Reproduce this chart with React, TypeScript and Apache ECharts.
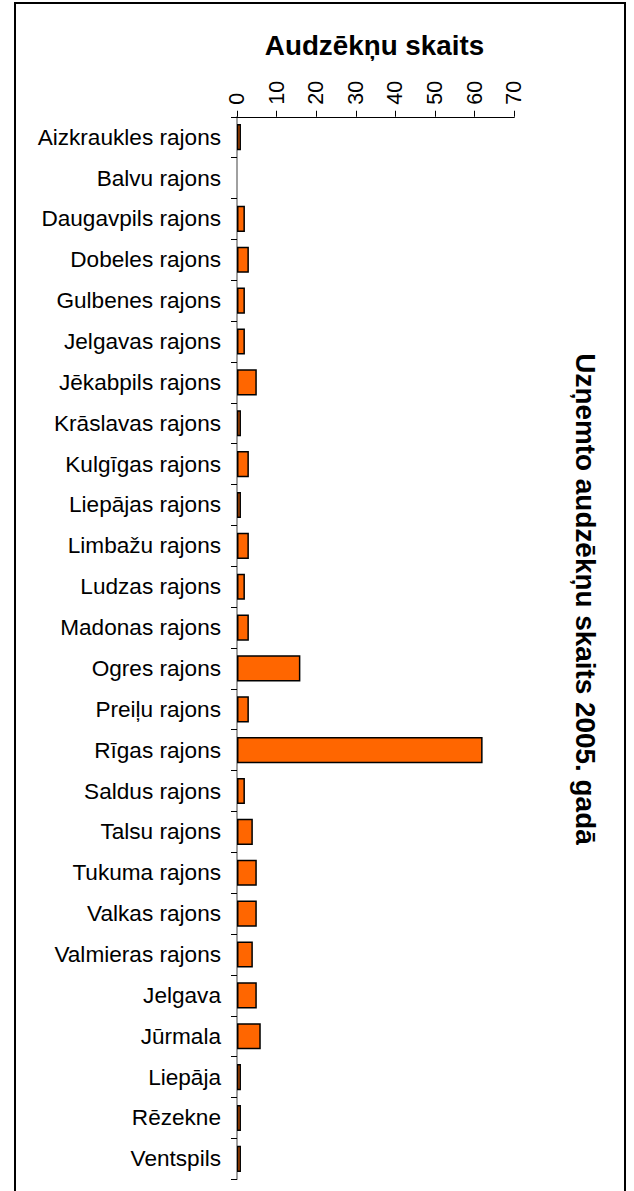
import React, { useEffect, useRef } from "react";
import * as echarts from "echarts";

const categories = [
  "Aizkraukles rajons", "Balvu rajons", "Daugavpils rajons", "Dobeles rajons",
  "Gulbenes rajons", "Jelgavas rajons", "Jēkabpils rajons", "Krāslavas rajons",
  "Kulgīgas rajons", "Liepājas rajons", "Limbažu rajons", "Ludzas rajons",
  "Madonas rajons", "Ogres rajons", "Preiļu rajons", "Rīgas rajons",
  "Saldus rajons", "Talsu rajons", "Tukuma rajons", "Valkas rajons",
  "Valmieras rajons", "Jelgava", "Jūrmala", "Liepāja", "Rēzekne", "Ventspils",
];
const values = [1, 0, 2, 3, 2, 2, 5, 1, 3, 1, 3, 2, 3, 16, 3, 62, 2, 4, 5, 5, 4, 5, 6, 1, 1, 1];
const axisTitle = "Audzēkņu skaits";
const chartTitle = "Uzņemto audzēkņu skaits 2005. gadā";
const tickMin = 0;
const tickMax = 70;
const tickStep = 10;

const FONT = "'Liberation Sans', Arial, sans-serif";

export default function App() {
  const ref = useRef<HTMLDivElement>(null);
  useEffect(() => {
    if (!ref.current) return;
    const chart = echarts.init(ref.current, undefined, { renderer: "svg" });
    chart.setOption({
      animation: false,
      backgroundColor: "#ffffff",
      textStyle: { fontFamily: FONT },
      grid: { left: 237, right: 119.7, top: 116.75, bottom: 11.75, containLabel: false },
      xAxis: {
        type: "value",
        position: "top",
        min: tickMin,
        max: tickMax,
        interval: tickStep,
        axisLine: { show: true, lineStyle: { color: "#000", width: 1 } },
        axisTick: { show: true, length: 6, lineStyle: { color: "#000" } },
        splitLine: { show: false },
        axisLabel: { rotate: -90, fontSize: 21.5, color: "#000", margin: 12, fontFamily: FONT },
      },
      yAxis: {
        type: "category",
        data: categories,
        inverse: true,
        axisLine: { show: true, lineStyle: { color: "#808080", width: 1.5 } },
        axisTick: { show: true, length: 6, lineStyle: { color: "#000" } },
        axisLabel: { fontSize: 22.6, color: "#000", margin: 16, fontFamily: FONT },
      },
      series: [
        {
          type: "bar",
          data: values.map((v) =>
            v === 0 ? { value: v, itemStyle: { borderWidth: 0 } } : v
          ),
          barCategoryGap: "36%",
          itemStyle: { color: "#FF6600", borderColor: "#000", borderWidth: 1.5 },
        },
      ],
      graphic: [
        {
          type: "rect",
          shape: { x: 15, y: 3, width: 610, height: 1200 },
          style: { fill: "none", stroke: "#000", lineWidth: 2 },
          silent: true,
        },
        {
          type: "text",
          x: 374.5,
          y: 45,
          style: {
            text: axisTitle,
            font: `bold 27.8px ${FONT}`,
            fill: "#000",
            textAlign: "center",
            textVerticalAlign: "middle",
          },
        },
        {
          type: "text",
          x: 585,
          y: 599,
          rotation: -Math.PI / 2,
          style: {
            text: chartTitle,
            font: `bold 27.9px ${FONT}`,
            fill: "#000",
            textAlign: "center",
            textVerticalAlign: "middle",
          },
        },
      ],
    });
    return () => chart.dispose();
  }, []);
  return <div ref={ref} style={{ width: 634, height: 1191, position: "absolute", left: 0, top: 0 }} />;
}
